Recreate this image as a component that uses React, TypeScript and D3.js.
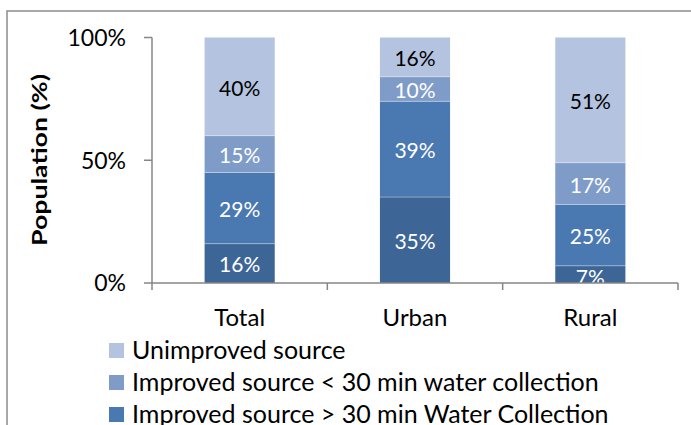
import React from "react";
import * as d3 from "d3";

const categories = ["Total", "Urban", "Rural"];
const seriesNames = [
  "Improved source on premises",
  "Improved source > 30 min Water Collection",
  "Improved source < 30 min water collection",
  "Unimproved source",
];
const onPremises = [16, 35, 7];
const over30 = [29, 39, 25];
const under30 = [15, 10, 17];
const unimproved = [40, 16, 51];
const yTicks = [0, 50, 100];
const legendOrder = [3, 2, 1];

const colors = ["#3d6596", "#4a78b0", "#7f9cc9", "#b4c3df"];
const labelColors = ["#ffffff", "#ffffff", "#ffffff", "#000000"];
const FONT = "Lato, 'Open Sans', sans-serif";

export default function App() {
  const W = 691, H = 425;
  const left = 152, right = 678, top = 37.5, bottom = 283;
  const x = d3.scaleBand().domain(categories).range([left, right]).paddingInner(0.6).paddingOuter(0.3);
  const xOuter = d3.scaleBand().domain(categories).range([left, right]);
  const y = d3.scaleLinear().domain([0, 100]).range([bottom, top]);

  const rows = categories.map((c, i) => ({
    cat: c,
    s0: onPremises[i],
    s1: over30[i],
    s2: under30[i],
    s3: unimproved[i],
  }));
  const stack = d3.stack<any>().keys(["s0", "s1", "s2", "s3"])(rows);

  return (
    <svg width={W} height={H} style={{ position: "absolute", left: 0, top: 0 }} fontFamily={FONT}>
      <defs>
        <clipPath id="plot">
          <rect x={left} y={top - 5} width={right - left} height={bottom - top + 5} />
        </clipPath>
      </defs>
      <rect x={0} y={0} width={W} height={H} fill="#fff" />
      <rect x={7} y={11} width={720} height={500} fill="none" stroke="#8c8c8c" strokeWidth={1.5} />
      {stack.map((layer, li) =>
        layer.map((d, ci) => (
          <rect
            key={`${li}-${ci}`}
            x={x(categories[ci])}
            y={y(d[1])}
            width={x.bandwidth()}
            height={y(d[0]) - y(d[1])}
            fill={colors[li]}
          />
        ))
      )}
      {stack.slice(1).map((layer, li) =>
        layer.map((d, ci) => (
          <line
            key={`b${li}-${ci}`}
            x1={x(categories[ci])}
            x2={(x(categories[ci]) as number) + x.bandwidth()}
            y1={y(d[0])}
            y2={y(d[0])}
            stroke="#ffffff"
            strokeOpacity={0.35}
            strokeWidth={1}
          />
        ))
      )}
      <g clipPath="url(#plot)">
        {stack.map((layer, li) =>
          layer.map((d, ci) => (
            <text
              key={`t${li}-${ci}`}
              x={(x(categories[ci]) as number) + x.bandwidth() / 2}
              y={(y(d[0]) + y(d[1])) / 2 + (d[1] - d[0] < 10 ? 3 : 1.5)}
              dy="0.36em"
              textAnchor="middle"
              fontSize={21}
              fill={labelColors[li]}
            >
              {`${d[1] - d[0]}%`}
            </text>
          ))
        )}
      </g>
      {/* y axis */}
      <line x1={left} x2={left} y1={top} y2={bottom} stroke="#868686" strokeWidth={1.5} />
      {yTicks.map((t) => (
        <g key={t}>
          <line x1={left - 8} x2={left} y1={y(t)} y2={y(t)} stroke="#868686" strokeWidth={1.5} />
          <text x={126} y={y(t)} dy="0.36em" textAnchor="end" fontSize={23} fill="#000">
            {`${t}%`}
          </text>
        </g>
      ))}
      {/* x axis */}
      <line x1={left} x2={right} y1={bottom} y2={bottom} stroke="#868686" strokeWidth={1.5} />
      {[...categories.map((c) => xOuter(c) as number), right].map((px, i) => (
        <line key={i} x1={px} x2={px} y1={bottom} y2={bottom + 7} stroke="#868686" strokeWidth={1.5} />
      ))}
      {categories.map((c) => (
        <text key={c} x={(xOuter(c) as number) + xOuter.bandwidth() / 2} y={326} textAnchor="middle" fontSize={24} fill="#000">
          {c}
        </text>
      ))}
      <text
        transform={`translate(47,160) rotate(-90)`}
        textAnchor="middle"
        fontSize={20}
        fontWeight="bold"
        fill="#000"
        textLength={172}
        lengthAdjust="spacingAndGlyphs"
      >
        Population (%)
      </text>
      {legendOrder.map((si, i) => (
        <g key={si} transform={`translate(109,${343 + i * 32})`}>
          <rect x={0} y={0} width={15} height={15} fill={colors[si]} />
          <text x={23} y={16} fontSize={25} fill="#000">
            {seriesNames[si]}
          </text>
        </g>
      ))}
    </svg>
  );
}
